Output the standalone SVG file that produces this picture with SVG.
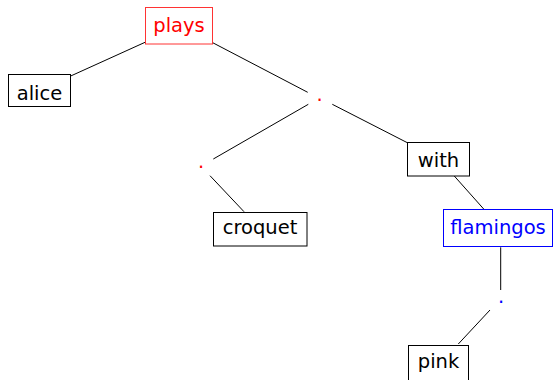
<svg xmlns="http://www.w3.org/2000/svg" width="554" height="380" viewBox="0 0 554 380">
<style>
text{font-family:"DejaVu Sans","Liberation Sans",sans-serif;font-size:19.5px;text-anchor:middle}
.box{fill:#fff;stroke:#000;stroke-width:1}
.red text{fill:#ff0000}
.red rect{stroke:#ff3333}
.blue text{fill:#0000ff}
.blue rect{stroke:#0000ff}
#edges line{stroke:#000;stroke-width:1}
</style>
<rect width="554" height="380" fill="#fff"/>
<g id="edges">
<line x1="145.7" y1="42" x2="70.7" y2="76"/>
<line x1="212.7" y1="42.7" x2="307.7" y2="92.3"/>
<line x1="308.3" y1="104.3" x2="213.3" y2="159"/>
<line x1="332.3" y1="104.3" x2="407.3" y2="142.7"/>
<line x1="210" y1="175.7" x2="244" y2="211.7"/>
<line x1="454" y1="175.7" x2="483.7" y2="209"/>
<line x1="500.7" y1="247.3" x2="500.7" y2="290"/>
<line x1="490" y1="310" x2="458.3" y2="344"/>
</g>
<g id="n-plays" class="red"><rect class="box" x="145.5" y="7.5" width="67" height="36.5"/><text x="179" y="32">plays</text></g>
<g id="n-alice"><rect class="box" x="8.5" y="74.5" width="62" height="32"/><text x="39.5" y="99.5">alice</text></g>
<g id="n-dot1" class="red"><text x="319.5" y="101">.</text></g>
<g id="n-dot2" class="red"><text x="201" y="168">.</text></g>
<g id="n-croquet"><rect class="box" x="213.5" y="212.5" width="93.5" height="33.5"/><text x="260" y="233.5">croquet</text></g>
<g id="n-with"><rect class="box" x="407.5" y="142.5" width="62" height="33.5"/><text x="438.5" y="167">with</text></g>
<g id="n-flamingos" class="blue"><rect class="box" x="443.5" y="209.5" width="109" height="37"/><text x="498" y="233.5">flamingos</text></g>
<g id="n-dot3" class="blue"><text x="501" y="303">.</text></g>
<g id="n-pink"><rect class="box" x="408.5" y="345.5" width="60" height="37"/><text x="438.5" y="367.5">pink</text></g>
</svg>
